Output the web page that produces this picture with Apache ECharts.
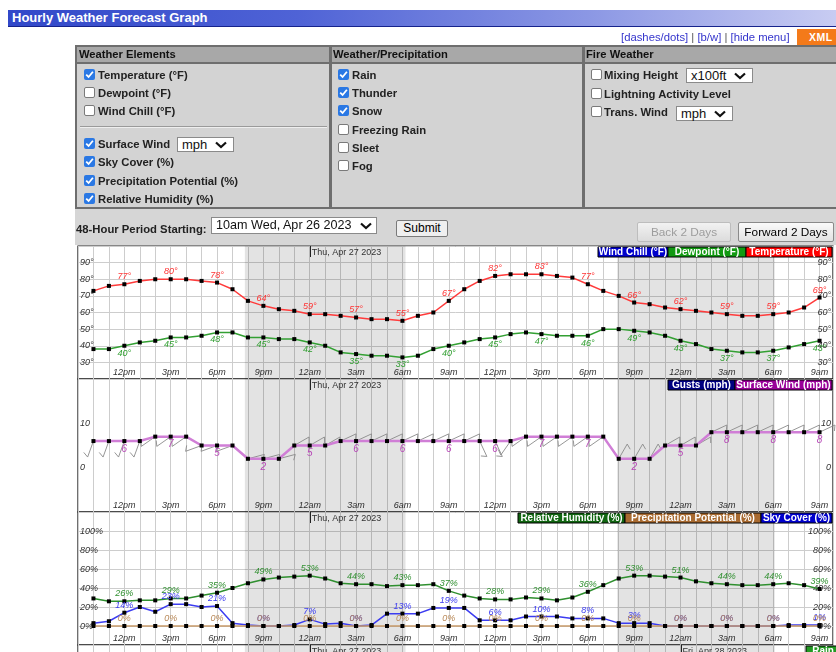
<!DOCTYPE html>
<html><head><meta charset="utf-8">
<script src="https://cdn.jsdelivr.net/npm/echarts@6/dist/echarts.min.js"></script>
<style>
body{margin:0;width:836px;height:652px;overflow:hidden;background:#fff;font-family:"Liberation Sans",Arial,sans-serif;position:relative}
#chart{position:absolute;left:0;top:0;width:836px;height:652px}
.a{position:absolute;white-space:nowrap;box-sizing:border-box}
.title{left:8px;top:10px;width:828px;height:17px;background:linear-gradient(to right,#3148c9 0%,#4f63d6 35%,#8b97e4 70%,#c8ccf2 100%);border-bottom:1px solid #16238c;color:#fff;font:bold 13px "Liberation Sans";line-height:16px;padding-left:4px}
.links{left:621px;top:30px;font:11.3px "Liberation Sans";color:#3434cc;line-height:14px}
.links span{color:#555}
.xml{left:797px;top:29px;width:39px;height:16px;background:#f47a1a;color:#fff;font:bold 10.5px "Liberation Sans";line-height:16px;padding-left:12px;letter-spacing:0.5px}
.hdr{font:bold 11.2px "Liberation Sans";color:#111;line-height:15px}
.lb{font:bold 11.3px "Liberation Sans";color:#222;line-height:14px}
.cb{width:11px;height:11px;border-radius:2px}
.cb.on{background:#2a78e4}
.cb.off{background:#fff;border:1px solid #7a7a7a}
.sel{background:#fff;border:1px solid #8a8a8a;font:13px "Liberation Sans";color:#111;padding-left:4px}
.btn{border-radius:2px;font:11.8px "Liberation Sans";text-align:center}
</style></head><body>
<div id="chart"></div>
<div id="ui"></div>
<script>
// ---------------- DATA ----------------
const temperature = [73,76,77,79,80,80,80,79,78,74,67,64,62,61,59,59,58,57,56,56,55,58,60,67,
                     74,79,82,83,83,83,82,81,77,73,70,66,65,63,62,61,60,59,58,58,59,60,63,69];
const dewpoint    = [38,38,40,42,43,45,45,46,48,48,45,45,44,44,42,40,36,35,34,34,33,34,38,40,
                     42,44,45,47,48,47,46,46,46,50,50,49,48,46,43,41,38,37,36,36,37,39,41,43];
const windSpeed   = [6,6,6,6,7,7,7,5,5,5,2,2,2,5,5,5,6,6,6,6,6,6,6,6,
                     6,6,6,6,7,7,7,7,7,7,2,2,2,5,5,5,8,8,8,8,8,8,8,8];
const windDir     = [200,200,200,200,235,235,235,250,250,250,75,75,75,60,60,60,65,65,65,65,65,65,65,65,
                     65,155,155,215,235,235,235,235,235,235,30,30,30,60,60,60,65,65,65,65,65,65,65,65];
const humidity    = [29,26,26,27,27,29,29,32,35,40,45,49,51,52,53,50,45,44,44,42,43,43,44,37,
                     32,29,28,28,30,29,27,30,36,43,50,53,53,52,51,47,45,44,43,43,44,45,43,39];
const skyCover    = [3,5,14,20,15,23,23,20,21,3,1,0,0,1,7,2,3,0,1,13,13,13,19,19,
                     19,6,6,6,10,10,10,8,8,8,3,3,3,0,0,0,0,0,0,0,0,1,1,1];
const precipPot   = [0,0,0,0,0,0,0,0,0,0,0,0,0,0,0,0,0,0,0,0,0,0,0,0,
                     0,0,0,0,0,0,0,0,0,0,0,0,0,0,0,0,0,0,0,0,0,0,0,0];
const timeLabels  = ['12pm','3pm','6pm','9pm','12am','3am','6am','9am','12pm','3pm','6pm','9pm','12am','3am','6am','9am'];
const tempTicks   = [30,40,50,60,70,80,90];
const windTicks   = [0,10];
const pctTicks    = [0,20,40,60,80,100];
const nightStart  = [9.8, 33.9];
const nightEnd    = [20.2, 44.1];
const dateHours   = [14, 38];
const dateLabels  = ['Thu, Apr 27 2023', 'Fri, Apr 28 2023'];

// ---------------- UI (HTML form around the graph) ----------------
const ui = document.getElementById('ui');
function el(cls, style, html){const d=document.createElement('div');d.className='a '+cls;d.setAttribute('style',style);if(html!==undefined)d.innerHTML=html;ui.appendChild(d);return d;}
const check = '<svg width="11" height="11" style="display:block"><path d="M2.2 5.6 L4.6 8 L8.9 2.8" stroke="#fff" stroke-width="1.8" fill="none"/></svg>';
const chev = (x,y)=>'<svg width="12" height="8" style="position:absolute;left:'+x+'px;top:'+y+'px"><path d="M1 1.5 L6 6 L11 1.5" stroke="#111" stroke-width="2.2" fill="none"/></svg>';
el('title','', 'Hourly Weather Forecast Graph');
el('links','', '[dashes/dots] <span>|</span> [b/w] <span>|</span> [hide menu]');
el('xml','', 'XML');
el('', 'left:75px;top:45px;width:763px;height:164px;background:#d3d3d3;border:2px solid #6e6e6e');
el('', 'left:77px;top:47px;width:759px;background:#a8a8a8;border-bottom:2px solid #6e6e6e;height:17px');
el('', 'left:329px;top:47px;width:3px;height:160px;background:#6e6e6e');
el('', 'left:582px;top:47px;width:3px;height:160px;background:#6e6e6e');
el('hdr','left:79px;top:47px','Weather Elements');
el('hdr','left:333px;top:47px','Weather/Precipitation');
el('hdr','left:586px;top:47px','Fire Weather');
el('', 'left:80px;top:126px;width:247px;height:2px;border-top:1px solid #9a9a9a;border-bottom:1px solid #eee');
const items = [
  [83.5,98,75,true,'Temperature (°F)'],[83.5,98,93,false,'Dewpoint (°F)'],[83.5,98,111.5,false,'Wind Chill (°F)'],
  [83.5,98,144,true,'Surface Wind'],[83.5,98,162.5,true,'Sky Cover (%)'],[83.5,98,181,true,'Precipitation Potential (%)'],[83.5,98,199,true,'Relative Humidity (%)'],
  [337.5,352,75,true,'Rain'],[337.5,352,93,true,'Thunder'],[337.5,352,111.5,true,'Snow'],[337.5,352,130,false,'Freezing Rain'],[337.5,352,148,false,'Sleet'],[337.5,352,166,false,'Fog'],
  [590.5,604,75,false,'Mixing Height'],[590.5,604,94,false,'Lightning Activity Level'],[590.5,604,112,false,'Trans. Wind']
];
items.forEach(([cx,tx,cy,on,t])=>{
  el('cb '+(on?'on':'off'),'left:'+cx+'px;top:'+(cy-6.5)+'px', on?check:'');
  el('lb','left:'+tx+'px;top:'+(cy-7.5)+'px', t);
});
el('sel','left:177px;top:136.5px;width:57px;height:15px;line-height:13px','mph'+chev(37,3));
el('sel','left:686px;top:67.5px;width:67px;height:15.5px;line-height:13px','x100ft'+chev(47,3.5));
el('sel','left:676px;top:105.5px;width:57px;height:15px;line-height:13px','mph'+chev(37,3));
el('', 'left:75px;top:209px;width:761px;height:36px;background:#d6d6d6');
el('lb','left:76px;top:222px','48-Hour Period Starting:');
el('sel','left:211px;top:217px;width:166px;height:16.5px;line-height:14px;font-size:12.6px','10am Wed, Apr 26 2023'+chev(148,4));
el('btn','left:396px;top:220px;width:52px;height:17px;line-height:15px;background:#efefef;border:1px solid #7a7a7a;color:#000;font-size:12px','Submit');
el('btn','left:637px;top:222px;width:94px;height:20px;line-height:18px;background:linear-gradient(#f2f2f2,#dcdcdc);border:1px solid #bdbdbd;color:#9d9d9d','Back 2 Days');
el('btn','left:738px;top:222px;width:96px;height:20px;line-height:18px;background:linear-gradient(#fafafa,#e2e2e2);border:1px solid #8a8a8a;color:#000','Forward 2 Days');

// ---------------- CHART ----------------
const chart = echarts.init(document.getElementById('chart'), null, {renderer:'canvas'});
const FONT = '"Liberation Sans", Arial, sans-serif';
const X_MIN = -1, X_MAX = 47.87;
const pairs = arr => arr.map((v,i)=>[i,v]);
const every3 = h => h >= 2 && (h - 2) % 3 === 0;
const night = {silent:true, itemStyle:{color:'rgba(0,0,0,0.11)'},
  data: nightStart.map((s,i)=>[{xAxis:s},{xAxis:nightEnd[i]}])};

function xAx(i, show){
  return {type:'value', gridIndex:i, min:X_MIN, max:X_MAX, interval:1,
    axisLine:{show:false}, axisTick:{show:false},
    splitLine:{show:true, lineStyle:{color:'#cdcdcd', width:1}},
    axisLabel:{show:show, inside:true, margin:2, fontSize:9, fontStyle:'italic', fontFamily:FONT, color:'#333',
      formatter:v=>{const r=Math.round(v); if(Math.abs(v-r)>1e-6) return ''; const k=(r-2)/3; return (Number.isInteger(k)&&k>=0&&k<timeLabels.length)?timeLabels[k]:'';}}};
}
function yAx(i, pos, min, max, step, ticks, suffix, split){
  return {type:'value', gridIndex:i, position:pos, min:min, max:max, interval:step,
    axisLine:{show:false}, axisTick:{show:false},
    splitLine:{show:split, lineStyle:{color:'#cdcdcd', width:1}},
    axisLabel:{inside:true, margin:2, fontSize:9, fontStyle:'italic', fontFamily:FONT, color:'#333',
      formatter:v=>ticks.indexOf(v)>=0 ? v+suffix : ''}};
}
function lineSeries(name, data, xi, yi, color, width, pos, suffix, lblColor, fs){
  return {name:name, type:'line', xAxisIndex:xi, yAxisIndex:yi, data:pairs(data),
    symbol:'rect', symbolSize:4, itemStyle:{color:'#000'},
    lineStyle:{color:color, width:width}, z:3, animation:false,
    label:{show:true, position:pos, distance:1, color:lblColor, fontSize:fs||9, fontStyle:'italic', fontFamily:FONT,
      formatter:p=>every3(p.value[0]) ? p.value[1]+suffix : ''}};
}
function dateMark(xi, yi, yTop, idxs, withNight){
  const s = {type:'custom', xAxisIndex:xi, yAxisIndex:yi, silent:true, z:5, animation:false,
    data: idxs.map(i=>[dateHours[i], yTop, i]),
    renderItem:(params, api)=>{
      const p = api.coord([api.value(0), api.value(1)]);
      const i = api.value(2);
      return {type:'group', children:[
        {type:'line', shape:{x1:Math.round(p[0])+0.5, y1:p[1], x2:Math.round(p[0])+0.5, y2:p[1]+11}, style:{stroke:'#222', lineWidth:1}},
        {type:'text', x:p[0]+2, y:p[1]+6.5, style:{text:dateLabels[i], fill:'#333', font:'9px '+FONT, verticalAlign:'middle', align:'left'}}
      ]};
    }};
  if(withNight) s.markArea = night;
  return s;
}
const barbs = {type:'custom', xAxisIndex:1, yAxisIndex:2, silent:true, z:2, animation:false,
  data: windSpeed.map((v,i)=>[i, v, windDir[i]]),
  renderItem:(params, api)=>{
    const p = api.coord([api.value(0), api.value(1)]);
    const r = api.value(2)*Math.PI/180;
    const sx = Math.sin(r), sy = -Math.cos(r);
    const L = 17, B = 6, a = 120*Math.PI/180;
    const ex = p[0]+sx*L, ey = p[1]+sy*L;
    const bx = sx*Math.cos(a)-sy*Math.sin(a), by = sx*Math.sin(a)+sy*Math.cos(a);
    return {type:'polyline', shape:{points:[[p[0],p[1]],[ex,ey],[ex+bx*B, ey+by*B]]},
      style:{stroke:'#8a8a8a', lineWidth:0.9, fill:null}};
  }};

function legend(x1, x2, y, h, color, text){
  return [
    {type:'rect', shape:{x:x1, y:y, width:x2-x1, height:h}, style:{fill:color, stroke:'#000', lineWidth:1}, z:100},
    {type:'text', x:(x1+x2)/2, y:y+h/2+0.5, style:{text:text, fill:'#fff', font:'bold 10px '+FONT, align:'center', verticalAlign:'middle'}, z:101}
  ];
}
const gridBase = {left:78, right:3, show:true, backgroundColor:'#fff', borderColor:'#111', borderWidth:1.2};

chart.setOption({
  animation:false,
  grid:[
    Object.assign({top:246, height:133}, gridBase),
    Object.assign({top:379, height:133}, gridBase),
    Object.assign({top:512, height:133}, gridBase),
    Object.assign({top:645, height:40}, gridBase)
  ],
  xAxis:[xAx(0,true), xAx(1,true), xAx(2,true), xAx(3,false)],
  yAxis:[
    yAx(0,'left',20,100,10,tempTicks,'°',true),
    yAx(0,'right',20,100,10,tempTicks,'°',false),
    yAx(1,'left',-10,20,10,windTicks,'',false),
    yAx(1,'right',-10,20,10,windTicks,'',false),
    yAx(2,'left',-20,120,20,pctTicks,'%',true),
    yAx(2,'right',-20,120,20,pctTicks,'%',false),
    Object.assign(yAx(3,'left',0,1,1,[],'',false), {axisLabel:{show:false}})
  ],
  series:[
    Object.assign(lineSeries('Temperature (°F)', temperature, 0, 0, '#ff3b3b', 1.5, 'top', '°', '#ff3333'), {markArea:night}),
    lineSeries('Dewpoint (°F)', dewpoint, 0, 0, '#33a033', 1.5, 'bottom', '°', '#2e9e2e'),
    dateMark(0, 0, 100, [0], false),
    barbs,
    Object.assign(lineSeries('Surface Wind (mph)', windSpeed, 1, 2, '#d07ed6', 2.5, 'bottom', '', '#b848b8', 10), {markArea:night}),
    dateMark(1, 2, 20, [0], false),
    Object.assign(lineSeries('Relative Humidity (%)', humidity, 2, 4, '#2f8f2f', 1.5, 'top', '%', '#2f8f2f'), {markArea:night}),
    lineSeries('Sky Cover (%)', skyCover, 2, 4, '#3c3cf0', 1.5, 'top', '%', '#3c3cf0'),
    lineSeries('Precipitation Potential (%)', precipPot, 2, 4, '#c89a6a', 1.5, 'top', '%', '#b98a5a'),
    dateMark(2, 4, 120, [0], false),
    dateMark(3, 6, 1, [0,1], true)
  ],
  graphic:[].concat(
    legend(598,668,247,10,'#0000cc','Wind Chill (°F)'),
    legend(668,746,247,10,'#119911','Dewpoint (°F)'),
    legend(746,832,247,10,'#ff0000','Temperature (°F)'),
    legend(668,735,380,10,'#000080','Gusts (mph)'),
    legend(735,832,380,10,'#990099','Surface Wind (mph)'),
    legend(518,625,513,10,'#116611','Relative Humidity (%)'),
    legend(625,761,513,10,'#a86a30','Precipitation Potential (%)'),
    legend(761,832,513,10,'#0000cc','Sky Cover (%)'),
    legend(806,840,646,10,'#229922','Rain')
  )
});
</script>
</body></html>
